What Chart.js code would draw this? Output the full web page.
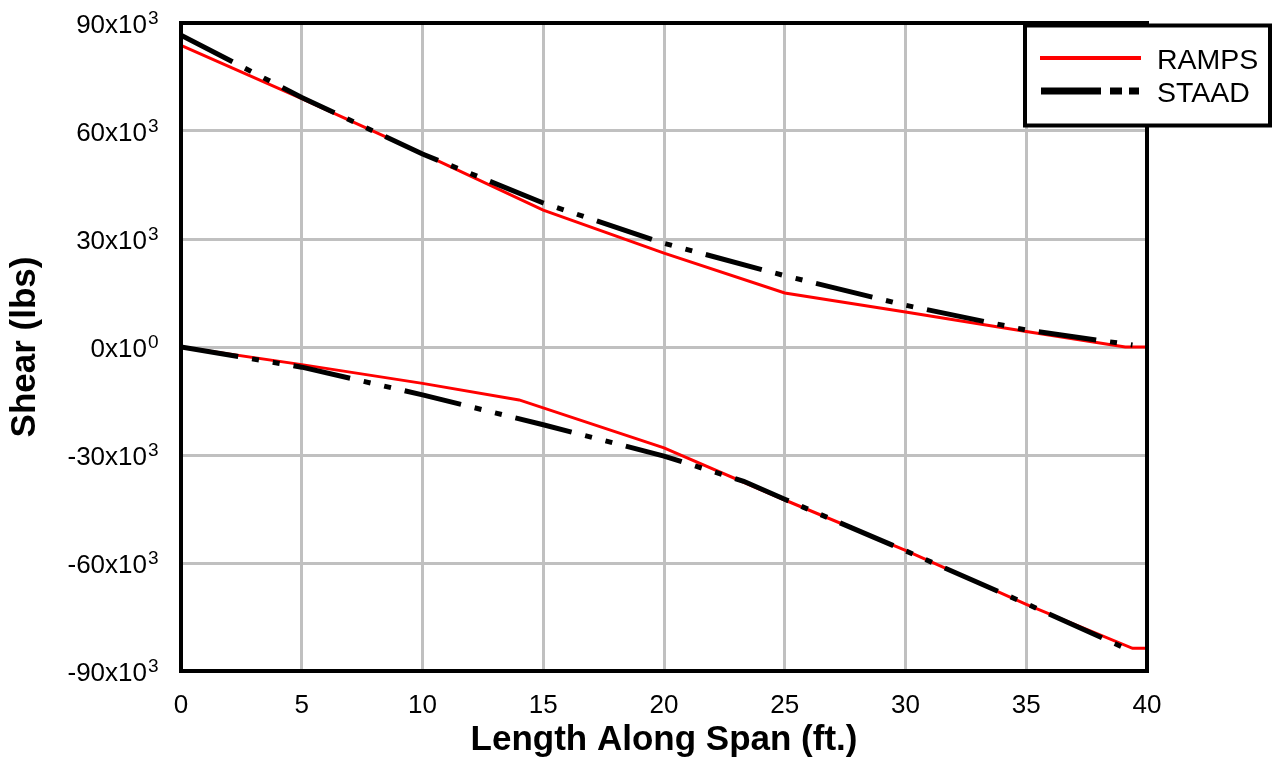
<!DOCTYPE html>
<html>
<head>
<meta charset="utf-8">
<script src="https://cdn.jsdelivr.net/npm/chart.js@4.4.1/dist/chart.umd.min.js"></script>
<style>
  html, body { margin: 0; padding: 0; background: #fff; }
</style>
</head>
<body>
<canvas id="myChart" width="1272" height="767"></canvas>
<script>
// shear envelopes (ft., lbs)
const rampsTopX = [0, 5, 10, 15, 20, 25, 30, 35, 39.1, 40];
const rampsTopY = [83800, 69000, 53700, 38000, 26100, 15000, 9700, 4300, 0, 0];
const rampsBotX = [0, 5, 10, 14, 20, 25, 30, 35, 39.4, 40];
const rampsBotY = [0, -4900, -10100, -14700, -28000, -42500, -56500, -71500, -83700, -83700];

const staadTopX = [0, 5, 10, 15, 20, 25, 30, 35, 39.4];
const staadTopY = [86600, 69300, 53600, 40000, 28800, 19800, 11600, 4700, 550];
const staadBotX = [0, 5, 10, 15, 20, 23.3, 25, 30, 35, 39.4];
const staadBotY = [0, -5600, -13300, -21600, -30300, -37300, -42300, -56600, -71300, -84600];

const yTickValues = [90000, 60000, 30000, 0, -30000, -60000, -90000];
const yTickBase = ['90x10', '60x10', '30x10', '0x10', '-30x10', '-60x10', '-90x10'];
const yTickExp = ['3', '3', '3', '0', '3', '3', '3'];

const seriesNames = ['RAMPS', 'STAAD'];

const FONT = '"Liberation Sans", Arial, Helvetica, sans-serif';
const staadDash = [58, 14, 7, 14, 7, 14];

const toPoints = (xs, ys) => xs.map((x, i) => ({ x: x, y: ys[i] }));

// frame, superscript y labels and the boxed legend
const extras = {
    id: 'extras',
    afterDraw(chart) {
        const ctx = chart.ctx;
        const a = chart.chartArea;
        const yScale = chart.scales.y;
        ctx.save();

        ctx.strokeStyle = '#000';
        ctx.lineWidth = 4;
        ctx.setLineDash([]);
        ctx.strokeRect(a.left, a.top, a.right - a.left, a.bottom - a.top);

        ctx.fillStyle = '#000';
        ctx.textBaseline = 'alphabetic';
        yTickValues.forEach((v, i) => {
            const py = yScale.getPixelForValue(v);
            ctx.font = '26px ' + FONT;
            ctx.textAlign = 'right';
            ctx.fillText(yTickBase[i], 147, py + 9.5);
            ctx.font = '19px ' + FONT;
            ctx.textAlign = 'left';
            ctx.fillText(yTickExp[i], 148, py + 1);
        });

        // legend box
        ctx.fillStyle = '#fff';
        ctx.fillRect(1025, 25.5, 245, 100);
        ctx.strokeStyle = '#000';
        ctx.lineWidth = 4;
        ctx.strokeRect(1025, 25.5, 245, 100);

        ctx.beginPath();
        ctx.strokeStyle = '#ff0000';
        ctx.lineWidth = 4;
        ctx.moveTo(1040, 58);
        ctx.lineTo(1141, 58);
        ctx.stroke();

        ctx.beginPath();
        ctx.strokeStyle = '#000';
        ctx.lineWidth = 7;
        ctx.setLineDash([60, 9, 12, 7, 10, 60]);
        ctx.moveTo(1041, 91);
        ctx.lineTo(1141, 91);
        ctx.stroke();
        ctx.setLineDash([]);

        ctx.fillStyle = '#000';
        ctx.font = '28.5px ' + FONT;
        ctx.textAlign = 'left';
        ctx.fillText(seriesNames[0], 1157, 69);
        ctx.fillText(seriesNames[1], 1157, 102);

        ctx.restore();
    }
};

const ctx = document.getElementById('myChart').getContext('2d');
const myChart = new Chart(ctx, {
    type: 'line',
    data: {
        datasets: [
            {
                label: seriesNames[1],
                data: toPoints(staadTopX, staadTopY),
                borderColor: '#000',
                borderWidth: 5,
                borderDash: staadDash,
                order: 0
            },
            {
                label: seriesNames[1],
                data: toPoints(staadBotX, staadBotY),
                borderColor: '#000',
                borderWidth: 5,
                borderDash: staadDash,
                order: 0
            },
            {
                label: seriesNames[0],
                data: toPoints(rampsTopX, rampsTopY),
                borderColor: '#ff0000',
                borderWidth: 3,
                order: 1
            },
            {
                label: seriesNames[0],
                data: toPoints(rampsBotX, rampsBotY),
                borderColor: '#ff0000',
                borderWidth: 3,
                order: 1
            }
        ]
    },
    options: {
        responsive: false,
        animation: false,
        elements: {
            point: { radius: 0 },
            line: { tension: 0, fill: false }
        },
        layout: {
            padding: { top: 23, right: 125, left: 0, bottom: 0 }
        },
        plugins: {
            legend: { display: false },
            tooltip: { enabled: false }
        },
        scales: {
            x: {
                type: 'linear',
                min: 0,
                max: 40,
                ticks: {
                    stepSize: 5,
                    padding: 19,
                    maxRotation: 0,
                    color: '#000',
                    font: { family: FONT, size: 26 }
                },
                grid: { color: '#c0c0c0', lineWidth: 3, drawTicks: false },
                border: { display: false },
                title: {
                    display: true,
                    text: 'Length Along Span (ft.)',
                    color: '#000',
                    font: { family: FONT, size: 35, weight: 'bold' },
                    padding: { top: 0, bottom: 6 }
                },
                afterFit: (s) => { s.height = 96; }
            },
            y: {
                type: 'linear',
                min: -90000,
                max: 90000,
                ticks: { stepSize: 30000, display: false },
                grid: { color: '#c0c0c0', lineWidth: 3, drawTicks: false },
                border: { display: false },
                title: {
                    display: true,
                    text: 'Shear (lbs)',
                    color: '#000',
                    font: { family: FONT, size: 35, weight: 'bold' },
                    padding: { top: 4, bottom: 0 }
                },
                afterFit: (s) => { s.width = 181; }
            }
        }
    },
    plugins: [extras]
});
</script>
</body>
</html>
